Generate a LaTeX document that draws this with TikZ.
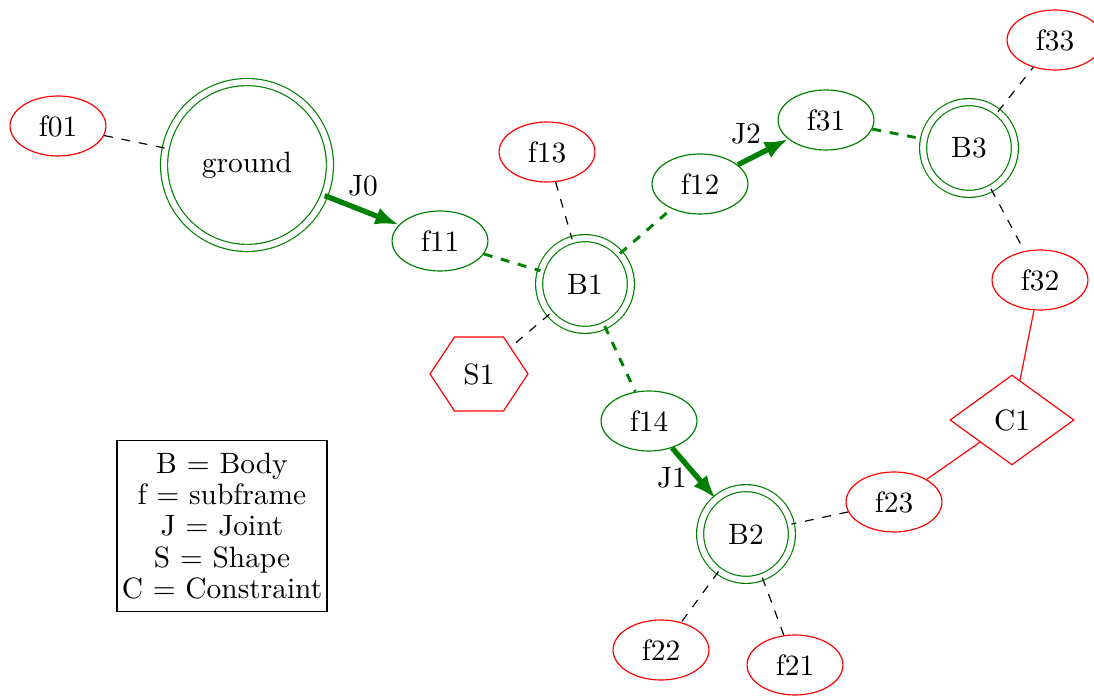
\documentclass[tikz,border=0pt]{standalone}
\usetikzlibrary{shapes.geometric,shapes.symbols,arrows.meta}
\definecolor{dg}{rgb}{0,0.5,0}
\begin{document}
\begin{tikzpicture}[x=0.34pt,y=-0.34pt,
 frame/.style={ellipse,draw,minimum width=32.6pt,minimum height=20.4pt,inner sep=0pt},
 gframe/.style={frame,draw=dg},
 rframe/.style={frame,draw=red},
 body/.style={circle,draw=dg,double,double distance=2pt,minimum size=31.2pt,inner sep=0pt},
 joint/.style={draw=dg,line width=1.8pt,-{Latex[length=8pt,width=6pt]}},
 gdash/.style={draw=dg,line width=1pt,dashed},
 kdash/.style={draw=black,dashed},
 rline/.style={draw=red}]
\useasboundingbox (0,0) rectangle (1094,698);
% nodes
\node[rframe] (f01) at (58,126) {f01};
\node[body,minimum size=56.4pt] (ground) at (247,165) {ground};
\node[gframe] (f11) at (440,241) {f11};
\node[body] (B1) at (585,284) {B1};
\node[rframe] (f13) at (547,152) {f13};
\node[gframe] (f12) at (700,184) {f12};
\node[gframe] (f31) at (826,120) {f31};
\node[body] (B3) at (969,148) {B3};
\node[rframe] (f33) at (1055,40) {f33};
\node[rframe] (f32) at (1040,280) {f32};
\node[signal,signal to=west and east,signal pointer angle=113,draw=red,
      minimum width=33.3pt,minimum height=25.2pt,inner sep=0pt] (S1) at (479,374) {S1};
\node[gframe] (f14) at (649,421) {f14};
\node[diamond,draw=red,aspect=1.38,minimum width=42.2pt,minimum height=30.6pt,
      inner sep=0pt] (C1) at (1012,420) {C1};
\node[body] (B2) at (746,534) {B2};
\node[rframe] (f23) at (894,502) {f23};
\node[rframe] (f22) at (661,650) {f22};
\node[rframe] (f21) at (795,665) {f21};
\node[draw,align=center,inner sep=0pt,minimum width=71.4pt,minimum height=58.1pt,
      font=\fontsize{10}{10.6}\selectfont] (legend) at (222,526)
  {B = Body\\ f = subframe\\ J = Joint\\ S = Shape\\ C = Constraint};
% labels
\node (lJ0) at (363,186) {J0};
\node (lJ2) at (746,134) {J2};
\node (lJ1) at (672,478) {J1};
% connectors
\draw[kdash] (f01) -- (ground);
\draw[joint] (ground) -- (f11);
\draw[gdash] (f11) -- (B1);
\draw[kdash] (f13) -- (B1);
\draw[gdash] (B1) -- (f12);
\draw[joint] (f12) -- (f31);
\draw[gdash] (f31) -- (B3);
\draw[kdash] (B3) -- (f33);
\draw[kdash] (B3) -- (f32);
\draw[rline] (f32) -- (C1);
\draw[rline] (C1) -- (f23);
\draw[kdash] (f23) -- (B2);
\draw[kdash] (B2) -- (f22);
\draw[kdash] (B2) -- (f21);
\draw[kdash] (B1) -- (S1);
\draw[gdash] (B1) -- (f14);
\draw[joint] (f14) -- (B2);
\end{tikzpicture}
\end{document}
